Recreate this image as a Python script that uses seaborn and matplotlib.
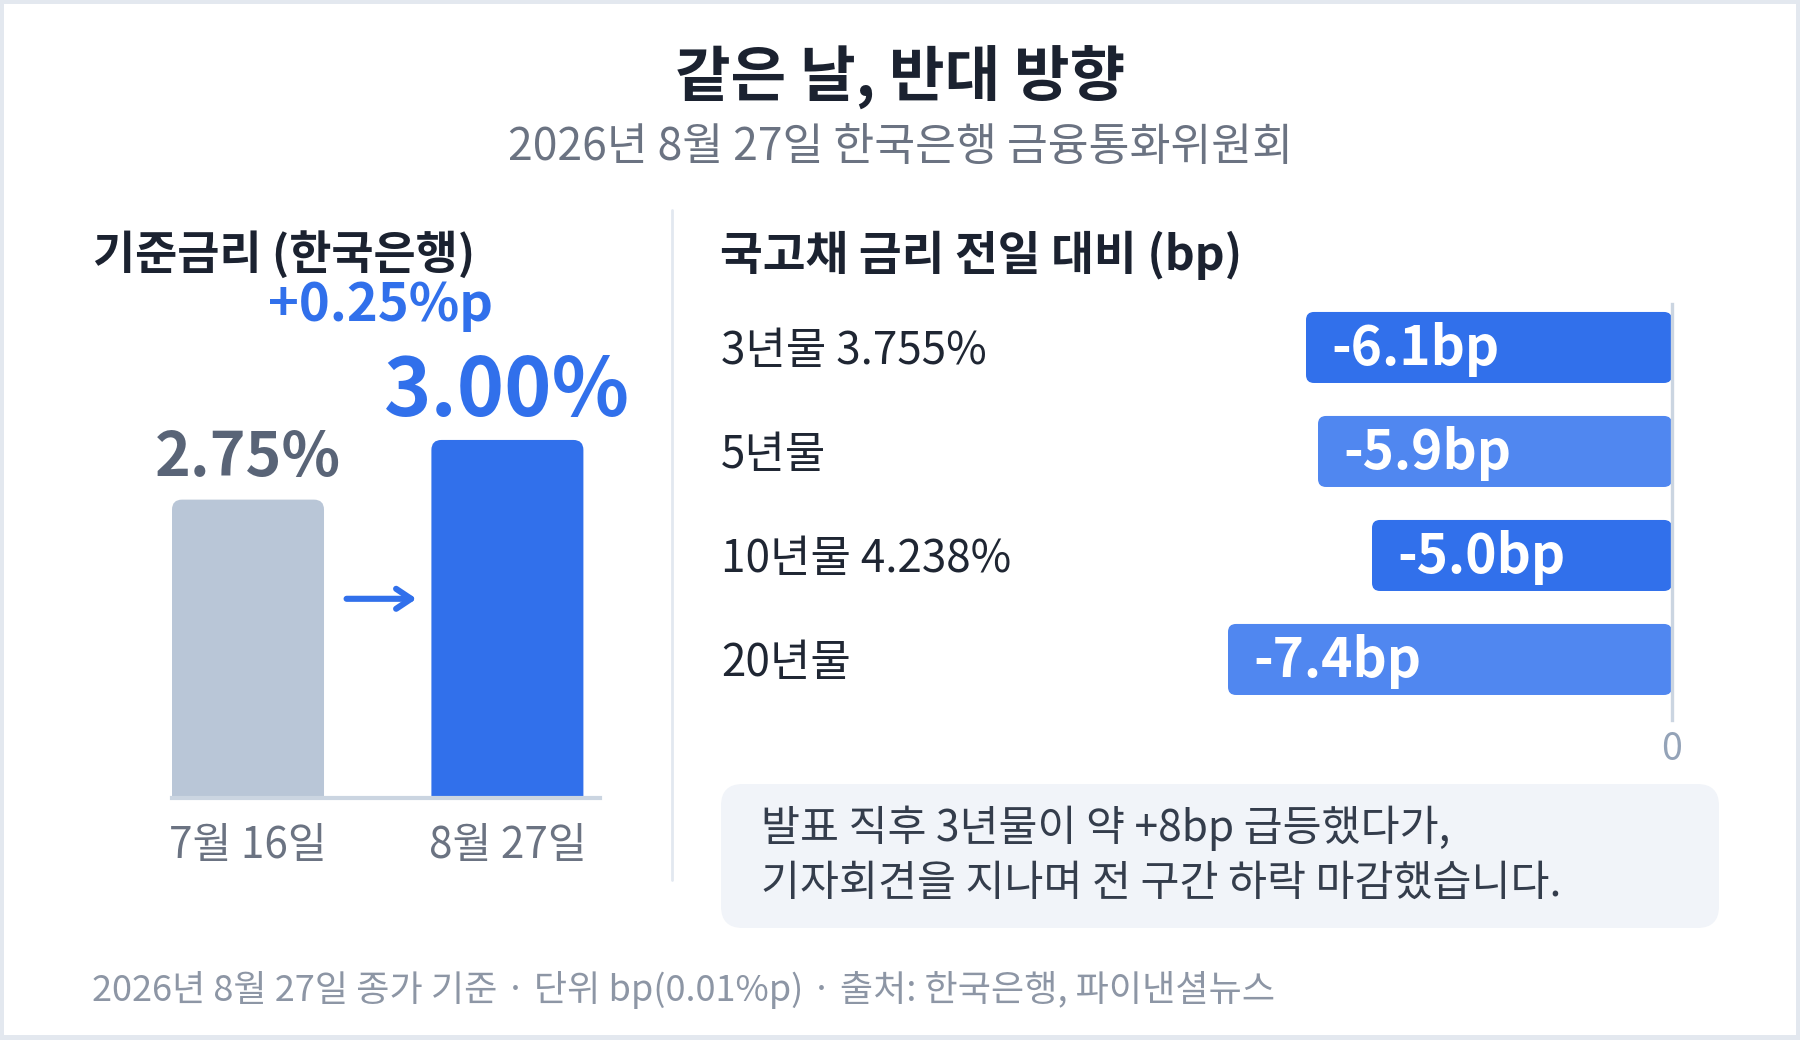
import matplotlib
matplotlib.use("Agg")
import matplotlib.pyplot as plt
from matplotlib.patches import FancyBboxPatch, Rectangle
import pandas as pd
import seaborn as sns

# ---- data ----
policy_dates = ["7월 16일", "8월 27일"]
policy_rates = [2.75, 3.00]
policy_colors = ["#b9c6d7", "#3170eb"]

tenors = ["3년물", "5년물", "10년물", "20년물"]
tenor_yields = [3.755, None, 4.238, None]
yield_changes = [-6.1, -5.9, -5.0, -7.4]
bar_colors = ["#3170eb", "#5087f0", "#3170eb", "#5087f0"]

title = "같은 날, 반대 방향"
subtitle = "2026년 8월 27일 한국은행 금융통화위원회"
left_head = "기준금리 (한국은행)"
right_head = "국고채 금리 전일 대비 (bp)"
note_lines = ["발표 직후 3년물이 약 +8bp 급등했다가,",
              "기자회견을 지나며 전 구간 하락 마감했습니다."]
footer = "2026년 8월 27일 종가 기준 · 단위 bp(0.01%p) · 출처: 한국은행, 파이낸셜뉴스"

sns.set_theme(style="white")
plt.rcParams['font.family'] = ['Noto Sans CJK KR', 'DejaVu Sans']

W, H = 1800, 1040
fig = plt.figure(figsize=(W / 100, H / 100), dpi=100)
fig.patch.set_facecolor("#e3e8ef")

def fx(x):
    return x / W

def fy(y):
    return 1 - y / H

def round_bars(ax, radius_px, px_x, px_y):
    # swap seaborn's square bars for rounded ones with the same bounds
    for p in list(ax.patches):
        x, y, w, h = p.get_x(), p.get_y(), p.get_width(), p.get_height()
        x0, y0 = min(x, x + w), min(y, y + h)
        fb = FancyBboxPatch((x0, y0), abs(w), abs(h),
                            boxstyle=f"round,pad=0,rounding_size={radius_px / px_x}",
                            mutation_aspect=px_x / px_y, facecolor=p.get_facecolor(),
                            edgecolor="none", zorder=2)
        p.remove()
        ax.add_patch(fb)

# white card (behind everything)
fig.patches.append(Rectangle((fx(4), fy(1035)), fx(1792), 1031 / H, transform=fig.transFigure,
                             facecolor="white", edgecolor="none", zorder=-2))

fig.text(0.5, fy(78), title, ha="center", va="center", fontsize=43.5, fontweight="bold", color="#1b2230")
fig.text(0.5, fy(147), subtitle, ha="center", va="center", fontsize=32, color="#6b7382")
fig.text(fx(93), fy(255), left_head, ha="left", va="center", fontsize=33, fontweight="bold", color="#1b2230")
fig.text(fx(720), fy(255), right_head, ha="left", va="center", fontsize=33.5, fontweight="bold", color="#1b2230")
fig.text(fx(92), fy(990), footer, ha="left", va="center", fontsize=26, color="#8d96a5")

# divider
fig.add_artist(plt.Line2D([fx(672), fx(672)], [fy(210), fy(880)], color="#e2e8f0", lw=2, zorder=-1))

# ---- left: policy rate ----
ax1 = fig.add_axes([fx(172), fy(798), fx(428), 498 / H])
df1 = pd.DataFrame({"date": policy_dates, "rate": policy_rates})
sns.barplot(data=df1, x="date", y="rate", hue="date", palette=policy_colors, legend=False,
            width=0.586, saturation=1, ax=ax1)
ax1.set_xlim(-0.293, 1.357)
ax1.set_ylim(1.5, 1.5 + 498 / 238.7)
ax1.set_xlabel("")
ax1.set_ylabel("")
ax1.set_yticks([])
for s in ["left", "right", "top"]:
    ax1.spines[s].set_visible(False)
ax1.spines["bottom"].set_color("#cbd5e1")
ax1.spines["bottom"].set_linewidth(3)
ax1.spines["bottom"].set_zorder(5)
ax1.tick_params(axis="x", length=0, pad=19, labelsize=30.4, labelcolor="#6b7382")
ax1.set_facecolor("none")
round_bars(ax1, 10, 428 / (1.357 + 0.293), 238.7)

label_styles = [dict(fontsize=43.8, color="#596477"), dict(fontsize=58, color="#3170eb")]
for i, (r, st) in enumerate(zip(policy_rates, label_styles)):
    ax1.annotate(f"{r:.2f}%", (i, r), xytext=(0, 17), textcoords="offset points",
                 ha="center", va="baseline", fontweight="bold", annotation_clip=False, **st)
diff = policy_rates[1] - policy_rates[0]
ax1.annotate(f"+{diff:.2f}%p", (0.5, policy_rates[1]), xytext=(2, 86), textcoords="offset points",
             ha="center", va="baseline", fontsize=37.8, fontweight="bold", color="#3170eb",
             annotation_clip=False)
ax1.annotate("", xy=(0.65, 0.40), xytext=(0.38, 0.40), xycoords=("data", "axes fraction"),
             textcoords=("data", "axes fraction"),
             arrowprops=dict(arrowstyle="->,head_length=0.9,head_width=0.6", color="#3170eb",
                             lw=4.4, shrinkA=0, shrinkB=0))

# ---- right: yield changes ----
ax2 = fig.add_axes([fx(721), fy(720), fx(951), 416 / H])
df2 = pd.DataFrame({"tenor": tenors, "change": yield_changes})
sns.barplot(data=df2, x="change", y="tenor", hue="tenor", palette=bar_colors, legend=False,
            orient="h", width=0.683, saturation=1, ax=ax2)
xmin = -951 / 60.0
ax2.set_xlim(xmin, 0)
ax2.set_ylim(3.582, -0.418)
ax2.set_xlabel("")
ax2.set_ylabel("")
ax2.set_yticks([])
ax2.set_xticks([0])
ax2.set_xticklabels(["0"])
ax2.tick_params(axis="x", length=0, pad=7, labelsize=27, labelcolor="#94a3b8")
for s in ["left", "top", "bottom"]:
    ax2.spines[s].set_visible(False)
ax2.spines["right"].set_color("#cbd5e1")
ax2.spines["right"].set_linewidth(2.4)
ax2.set_facecolor("none")
round_bars(ax2, 8, 60.0, 104.0)

for i, (t, yl, c) in enumerate(zip(tenors, tenor_yields, yield_changes)):
    lab = t if yl is None else f"{t} {yl:.3f}%"
    ax2.annotate(lab, (xmin, i), xytext=(0, -2.5), textcoords="offset points",
                 ha="left", va="center", fontsize=31.7, color="#1f2633")
    ax2.annotate(f"{c:.1f}bp", (c, i), xytext=(18, -1.5), textcoords="offset points",
                 ha="left", va="center", fontsize=38.3, fontweight="bold", color="white", zorder=4)

# ---- note box ----
fig.patches.append(FancyBboxPatch((fx(721), fy(928)), fx(998), 144 / H,
                                  boxstyle="round,pad=0,rounding_size=0.012",
                                  mutation_aspect=W / H, transform=fig.transFigure,
                                  facecolor="#f1f4f9", edgecolor="none", zorder=-1))
for ln, yy in zip(note_lines, [828, 884]):
    fig.text(fx(761), fy(yy), ln, ha="left", va="center", fontsize=30.5, color="#343d4c", zorder=3)

fig.savefig("out.png", dpi=100, facecolor=fig.get_facecolor())
